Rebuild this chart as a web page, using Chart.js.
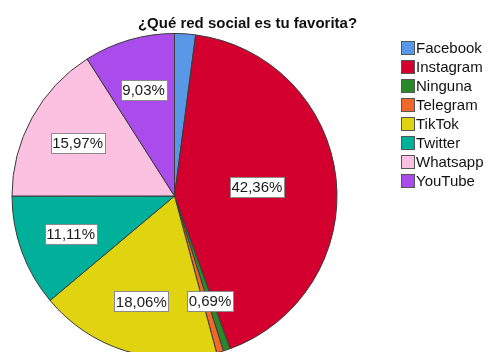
<!DOCTYPE html>
<html>
<head>
<meta charset="utf-8">
<script src="https://cdn.jsdelivr.net/npm/chart.js@4"></script>
<style>
  html, body { margin: 0; padding: 0; background: #fff; overflow: hidden; }
  #wrap { position: relative; width: 486px; height: 380px; }
</style>
</head>
<body>
<div id="wrap"><canvas id="pieChart"></canvas></div>
<script>
// data
const titleText = '¿Qué red social es tu favorita?';
const categories = ['Facebook', 'Instagram', 'Ninguna', 'Telegram', 'TikTok', 'Twitter', 'Whatsapp', 'YouTube'];
const percents = [2.08, 42.36, 0.69, 0.69, 18.06, 11.11, 15.97, 9.03];
const showLabel = [false, true, true, false, true, true, true, true];

const colors = ['#5898e6', '#d3002f', '#2a8a2a', '#f0682a', '#e0d410', '#00b09a', '#fcc1e0', '#aa4cec'];
const FONT = '"Liberation Sans", Arial, sans-serif';

function fmt(v) {
    return v.toFixed(2).replace('.', ',') + '%';
}

// title, legend and boxed percentage labels
const decorations = {
    id: 'decorations',
    afterDatasetsDraw(chart) {
        const c = chart.ctx;
        const meta = chart.getDatasetMeta(0);
        const total = percents.reduce((a, b) => a + b, 0);

        c.save();
        c.font = '15px ' + FONT;
        c.textAlign = 'center';
        c.textBaseline = 'middle';
        meta.data.forEach((arc, i) => {
            if (!showLabel[i]) return;
            const p = arc.getProps(['x', 'y', 'startAngle', 'endAngle', 'outerRadius'], true);
            const mid = (p.startAngle + p.endAngle) / 2;
            const k = percents[i] / total > 0.3 ? 0.51 : 0.68;
            const x = p.x + Math.cos(mid) * p.outerRadius * k;
            const y = p.y + Math.sin(mid) * p.outerRadius * k;
            const txt = fmt(percents[i]);
            const w = c.measureText(txt).width + 3;
            const h = 20;
            c.fillStyle = '#fff';
            c.fillRect(Math.round(x - w / 2) + 0.5, Math.round(y - h / 2) + 0.5, Math.round(w), h);
            c.strokeStyle = '#8a8a8a';
            c.lineWidth = 1;
            c.strokeRect(Math.round(x - w / 2) + 0.5, Math.round(y - h / 2) + 0.5, Math.round(w), h);
            c.fillStyle = '#1a1a1a';
            c.fillText(txt, x, y + 1);
        });

        // title
        c.font = 'bold 15px ' + FONT;
        c.fillStyle = '#111';
        c.fillText(titleText, 247.5, 24);

        // legend
        c.font = '15px ' + FONT;
        c.textAlign = 'left';
        categories.forEach((name, i) => {
            const top = 41 + i * 19;
            c.fillStyle = colors[i];
            c.fillRect(401.5, top + 0.5, 13, 13);
            c.strokeStyle = '#555';
            c.strokeRect(401.5, top + 0.5, 13, 13);
            c.fillStyle = '#111';
            c.fillText(name, 416, top + 7.5);
        });
        c.restore();
    }
};

const ctx = document.getElementById('pieChart').getContext('2d');
new Chart(ctx, {
    type: 'pie',
    data: {
        labels: categories,
        datasets: [{
            data: percents,
            backgroundColor: colors,
            borderColor: '#3a3a3a',
            borderWidth: 1
        }]
    },
    options: {
        responsive: true,
        maintainAspectRatio: false,
        animation: false,
        layout: {
            padding: { top: 33, left: 11.5, right: 148.5, bottom: 21 }
        },
        plugins: {
            legend: { display: false },
            title: { display: false },
            tooltip: { enabled: false }
        }
    },
    plugins: [decorations]
});
</script>
</body>
</html>
